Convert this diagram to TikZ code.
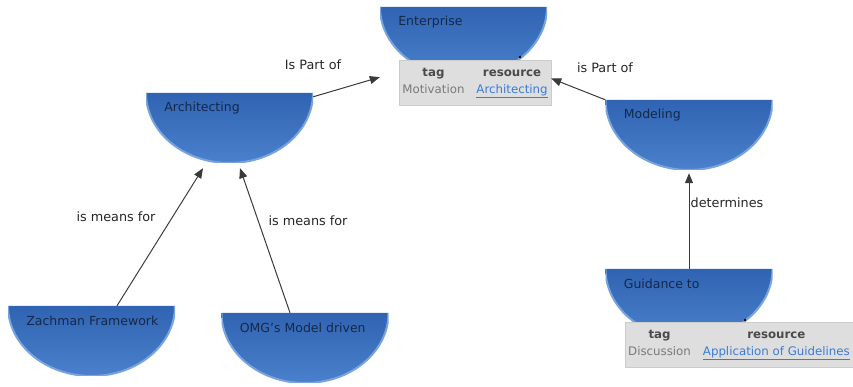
\documentclass[tikz,border=0pt]{standalone}
\usepackage{xcolor}
\usepackage{fontspec}
\setmainfont{DejaVu Sans}
\usepackage{tikz}
\usetikzlibrary{positioning,arrows.meta,calc}
\definecolor{CMBlueTop}{HTML}{3064B2}
\definecolor{CMBlueBot}{HTML}{4A80CC}
\definecolor{CMRim}{HTML}{78A3DC}
\definecolor{CMInk}{HTML}{16284A}
\definecolor{CMGrayBox}{HTML}{DEDEDE}
\definecolor{CMHead}{HTML}{4A4A4A}
\definecolor{CMMuted}{HTML}{7A7A7A}
\definecolor{CMLink}{HTML}{3A7CD6}
\definecolor{CMArrow}{HTML}{3A3A3A}

\begin{document}
\begin{tikzpicture}[x=1pt,y=1pt]
  \tikzset{
    cmconcept/.style={
      rectangle,
      inner sep=0pt,
      minimum width=167pt,
      minimum height=70pt,
      fill=white,
      path picture={
        \shade[top color=CMBlueTop,bottom color=CMBlueBot]
          (path picture bounding box.north west)
          arc[start angle=180,end angle=360,x radius=83.5pt,y radius=70pt]
          -- cycle;
        \draw[CMRim,line width=2pt]
          (path picture bounding box.north west)
          arc[start angle=180,end angle=360,x radius=83.5pt,y radius=70pt];
      }
    },
    cmtext/.style={
      anchor=west,
      xshift=15pt,
      yshift=-15pt,
      font=\fontsize{12.5}{15}\selectfont,
      text=CMInk
    },
    cmtable/.style={
      fill=CMGrayBox,
      draw=CMGrayBox!92!black,
      line width=0.4pt,
      inner sep=0pt,
      minimum height=45pt,
      font=\fontsize{11.8}{14}\selectfont
    },
    cmarrow/.style={
      -{Triangle[length=10pt,width=8pt]},
      draw=CMArrow,
      line width=1pt
    },
    cmlabel/.style={font=\fontsize{12.8}{15}\selectfont,text=black!85}
  }
  \useasboundingbox (0,0) rectangle (853,387);

  % ------------------------------------------------------------------
  % Concepts
  % ------------------------------------------------------------------
  \node[cmconcept,label={[cmtext]north west:Enterprise}] (ent) at (463.5,345) {};
  \node[cmconcept,label={[cmtext]north west:Architecting}] (arch) at (229.5,259) {};
  \node[cmconcept,label={[cmtext]north west:Modeling}] (model) at (689,252) {};
  \node[cmconcept,label={[cmtext]north west:Guidance to}] (guide) at (689,83) {};
  \node[cmconcept,label={[cmtext]north west:Zachman Framework}] (zach) at (91.5,46) {};
  \node[cmconcept,label={[cmtext]north west:OMG's Model driven}] (omg) at (305,39) {};

  % ------------------------------------------------------------------
  % Resource tables
  % ------------------------------------------------------------------
  \node[cmtable,minimum width=152pt] (enttab) at (475,304.5)
    {\begin{tabular}{@{}cc@{}}
       \textcolor{CMHead}{\textbf{tag}} & \textcolor{CMHead}{\textbf{resource}}\\[3pt]
       \textcolor{CMMuted}{Motivation} & \textcolor{CMLink}{\underline{Architecting}}
     \end{tabular}};
  \node[cmtable,minimum width=228pt] (guidetab) at (739,42.5)
    {\begin{tabular}{@{}cc@{}}
       \textcolor{CMHead}{\textbf{tag}} & \textcolor{CMHead}{\textbf{resource}}\\[3pt]
       \textcolor{CMMuted}{Discussion} & \textcolor{CMLink}{\underline{Application of Guidelines}}
     \end{tabular}};
  \fill[black] (520,330) circle (1.4pt);
  \fill[black] (745,67) circle (1.4pt);

  % ------------------------------------------------------------------
  % Relations
  % ------------------------------------------------------------------
  \draw[cmarrow] ([yshift=-4pt]arch.north east) -- (ent.south west);
  \draw[cmarrow] (model.north west) -- ([yshift=4pt]enttab.east);
  \draw[cmarrow] ([xshift=25.5pt]zach.north) -- ([xshift=-26.5pt,yshift=-5pt]arch.south);
  \draw[cmarrow] ([xshift=-15pt]omg.north) -- ([xshift=10.5pt,yshift=-5pt]arch.south);
  \draw[cmarrow] (guide.north) -- ([yshift=-3pt]model.south);

  \node[cmlabel] (lblentA) at (313,322) {Is Part of};
  \node[cmlabel] (lblentB) at (605,319) {is Part of};
  \node[cmlabel] (lblzach) at (116,170) {is means for};
  \node[cmlabel] (lblomg) at (308,166) {is means for};
  \node[cmlabel] (lbldet) at (727,184) {determines};
\end{tikzpicture}
\end{document}
